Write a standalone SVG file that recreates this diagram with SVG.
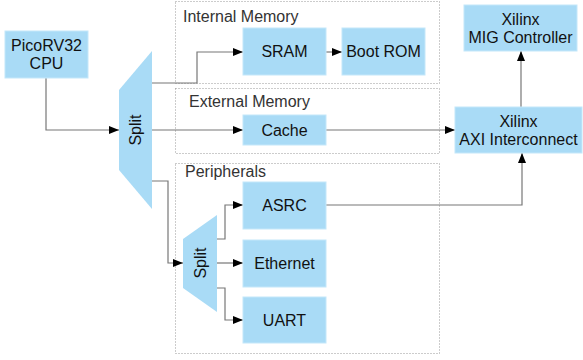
<svg xmlns="http://www.w3.org/2000/svg" width="583" height="360" viewBox="0 0 583 360">
<defs>
<marker id="arr" markerWidth="10" markerHeight="8" refX="10" refY="4" orient="auto" markerUnits="userSpaceOnUse">
<path d="M0,0 L10,4 L0,8 Z" fill="#000"/>
</marker>
<style>
.box{fill:#a9dbf6;stroke:#c4e7fa;stroke-width:1}
.grp{fill:none;stroke:#999;stroke-width:1;stroke-dasharray:1,2}
.t{font-family:"Liberation Sans",Arial,sans-serif;font-size:16px;fill:#111;text-anchor:middle}
.g{font-family:"Liberation Sans",Arial,sans-serif;font-size:16px;fill:#333}
.c{fill:none;stroke:#777;stroke-width:1.2;marker-end:url(#arr)}
</style>
</defs>
<rect width="583" height="360" fill="#fff"/>
<g id="internal-memory">
<rect class="grp" x="175.5" y="1.5" width="264" height="82"/>
<text class="g" x="183" y="22">Internal Memory</text>
</g>
<g id="external-memory">
<rect class="grp" x="175.5" y="88.5" width="264" height="65"/>
<text class="g" x="189" y="107">External Memory</text>
</g>
<g id="peripherals">
<rect class="grp" x="175.5" y="163.5" width="264" height="190"/>
<text class="g" x="185" y="177">Peripherals</text>
</g>
<g id="connectors">
<path class="c" d="M46,78 V130 H119"/>
<path class="c" d="M152,83 H197 V52 H243"/>
<path class="c" d="M326,52 H342"/>
<path class="c" d="M152,130 H243"/>
<path class="c" d="M326,130 H455"/>
<path class="c" d="M521,107 V51"/>
<path class="c" d="M152,181 H168 V263 H183"/>
<path class="c" d="M217,239 H225 V205 H243"/>
<path class="c" d="M217,263 H243"/>
<path class="c" d="M217,288 H225 V320 H243"/>
<path class="c" d="M326,205 H522 V153"/>
</g>
<g id="cpu">
<rect class="box" x="5" y="31" width="83" height="47"/>
<text class="t" x="46.5" y="51">PicoRV32</text>
<text class="t" x="46.5" y="69">CPU</text>
</g>
<g id="split1">
<polygon fill="#a9dbf6" points="119,90 152,51 152,209 119,170"/>
<text class="t" transform="translate(141,130) rotate(-90)">Split</text>
</g>
<g id="sram">
<rect class="box" x="243" y="28" width="83" height="47"/>
<text class="t" x="284.5" y="57">SRAM</text>
</g>
<g id="bootrom">
<rect class="box" x="342" y="28" width="83" height="47"/>
<text class="t" x="383.5" y="57">Boot ROM</text>
</g>
<g id="cache">
<rect class="box" x="243" y="115" width="83" height="30"/>
<text class="t" x="284.5" y="136">Cache</text>
</g>
<g id="mig">
<rect class="box" x="464" y="5" width="113" height="46"/>
<text class="t" x="520.5" y="25">Xilinx</text>
<text class="t" x="520.5" y="43">MIG Controller</text>
</g>
<g id="axi">
<rect class="box" x="455" y="107" width="127" height="46"/>
<text class="t" x="518.5" y="127">Xilinx</text>
<text class="t" x="518.5" y="145">AXI Interconnect</text>
</g>
<g id="split2">
<polygon fill="#a9dbf6" points="183,239 217,215 217,312 183,288"/>
<text class="t" transform="translate(206,263) rotate(-90)">Split</text>
</g>
<g id="asrc">
<rect class="box" x="243" y="182" width="83" height="47"/>
<text class="t" x="284.5" y="211">ASRC</text>
</g>
<g id="ethernet">
<rect class="box" x="243" y="240" width="83" height="47"/>
<text class="t" x="284.5" y="269">Ethernet</text>
</g>
<g id="uart">
<rect class="box" x="243" y="297" width="83" height="46"/>
<text class="t" x="284.5" y="326">UART</text>
</g>
</svg>
